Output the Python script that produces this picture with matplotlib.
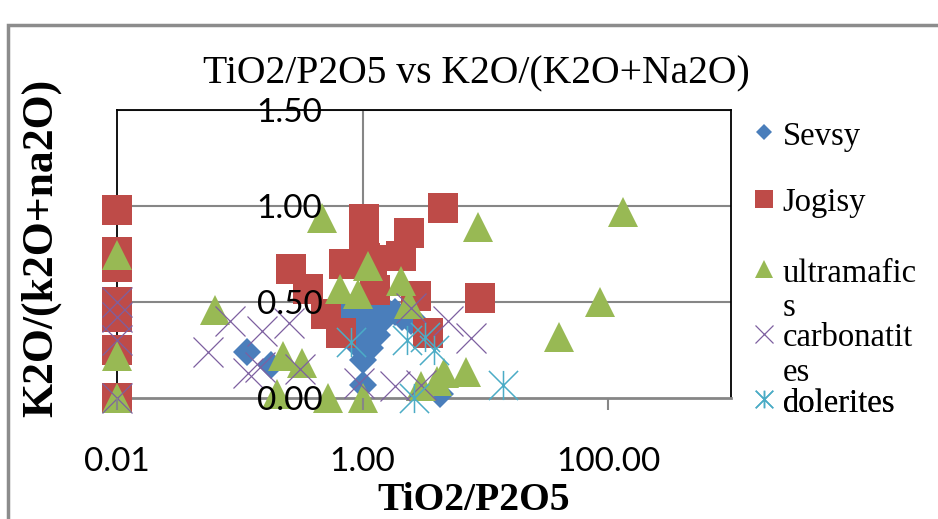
import matplotlib
matplotlib.use('Agg')
import matplotlib.pyplot as plt
from matplotlib.path import Path
from matplotlib.patches import Rectangle
from matplotlib.ticker import NullLocator

# values (x = TiO2/P2O5, y = K2O/(K2O+Na2O))
sevsy_x = [0.115, 0.18, 0.68, 0.8, 0.95, 1.1, 1.3, 1.55, 1.85, 0.8, 0.88, 0.95,
           1.0, 1.0, 1.05, 1.2, 1.45, 1.3, 1.15, 2.1, 2.5, 3.0, 1.0, 4.3]
sevsy_y = [0.24, 0.17, 0.45, 0.47, 0.47, 0.48, 0.47, 0.46, 0.45, 0.40, 0.33, 0.26,
           0.20, 0.38, 0.31, 0.40, 0.40, 0.33, 0.26, 0.42, 0.40, 0.37, 0.07, 0.02]

jogisy_x = [0.01, 0.01, 0.01, 0.01, 0.01, 0.01, 0.01,
            0.26, 0.36, 0.50, 0.67, 1.02, 1.02, 1.05, 0.7, 1.2, 1.25,
            2.4, 2.05, 4.5, 9.0, 2.7, 3.4]
jogisy_y = [0.98, 0.76, 0.68, 0.50, 0.42, 0.25, 0.0,
            0.67, 0.57, 0.44, 0.34, 0.93, 0.83, 0.73, 0.70, 0.72, 0.56,
            0.86, 0.74, 0.99, 0.52, 0.53, 0.34]

ultra_x = [0.01, 0.01, 0.01, 0.063, 0.226, 0.32, 0.20, 0.52, 1.0, 0.47, 0.66, 0.91,
           1.1, 2.04, 2.4, 8.7, 132, 85, 40, 4.6, 6.9, 3.0, 4.0]
ultra_y = [0.745, 0.22, 0.0, 0.46, 0.22, 0.18, 0.02, 0.0, 0.0, 0.94, 0.57, 0.54,
           0.69, 0.61, 0.49, 0.89, 0.97, 0.50, 0.32, 0.13, 0.135, 0.06, 0.09]

carb_x = [0.01, 0.01, 0.01, 0.01, 0.055, 0.083, 0.153, 0.25, 0.117, 0.146, 0.31,
          0.93, 1.85, 3.0, 2.5, 5.0, 7.6]
carb_y = [0.50, 0.42, 0.30, 0.0, 0.24, 0.40, 0.35, 0.39, 0.13, 0.16, 0.15,
          0.08, 0.06, 0.07, 0.47, 0.40, 0.31]

dol_x = [0.8, 2.3, 3.2, 3.8, 2.6, 13.8]
dol_y = [0.29, 0.30, 0.32, 0.25, 0.0, 0.07]

labels = ['Sevsy', 'Jogisy', 'ultramafic\ns', 'carbonatit\nes', 'dolerites']
xticks = [0.01, 1, 100]
xtick_labels = ['0.01', '1.00', '100.00']
yticks = [0.0, 0.5, 1.0, 1.5]
ytick_labels = ['0.00', '0.50', '1.00', '1.50']

# excel-style star: an x with a vertical bar through it
star = Path([(-1, -1), (1, 1), (-1, 1), (1, -1), (0, -1), (0, 1)],
            [Path.MOVETO, Path.LINETO] * 3)

grid_col = '#868686'

fig = plt.figure(figsize=(9.38, 5.19), dpi=100)
ax = fig.add_axes([117 / 938, 121 / 519, 614 / 938, 288 / 519])
ax.set_xscale('log')
ax.set_xlim(0.01, 1000)
ax.set_ylim(0, 1.5)

for y in yticks[1:]:
    ax.axhline(y, color=grid_col, lw=1.5, zorder=0.5)
# the value axis crosses at x = 1
ax.axvline(1, color=grid_col, lw=1.5, zorder=0.6)

kw = dict(ls='none', clip_on=False, zorder=3)
lines = []
lines += ax.plot(sevsy_x, sevsy_y, marker='D', ms=14.3, mfc='#4a7ebb', mec='#4a7ebb', mew=0, **kw)
lines += ax.plot(jogisy_x, jogisy_y, marker='s', ms=21, mfc='#be4b48', mec='#be4b48', mew=0, **kw)
lines += ax.plot(ultra_x, ultra_y, marker='^', ms=21, mfc='#98b954', mec='#98b954', mew=0, **kw)
lines += ax.plot(carb_x, carb_y, marker='x', ms=21, mec='#7d60a0', mew=0.9, **kw)
lines += ax.plot(dol_x, dol_y, marker=star, ms=21, mec='#4bacc6', mfc='none', mew=1.1, **kw)

for s in ['top', 'right', 'left']:
    ax.spines[s].set_color('black')
    ax.spines[s].set_linewidth(1.3)
ax.spines['bottom'].set_color(grid_col)
ax.spines['bottom'].set_linewidth(2)

ax.set_xticks(xticks)
ax.set_xticklabels(xtick_labels)
ax.xaxis.set_minor_locator(NullLocator())
ax.set_yticks(yticks)
ax.set_yticklabels(ytick_labels)
ax.tick_params(axis='x', direction='out', length=8.6, width=1.5, color=grid_col, pad=27)
ax.tick_params(axis='y', length=0, pad=-148)
for t in ax.get_xticklabels() + ax.get_yticklabels():
    t.set_fontfamily('Lato')
    t.set_fontsize(24)
ax.xaxis.set_zorder(5)
ax.yaxis.set_zorder(5)

ax.set_title('TiO2/P2O5 vs K2O/(K2O+Na2O)', fontfamily='Liberation Serif',
             fontsize=28.5, x=0.586, y=1.065)
ax.set_xlabel('TiO2/P2O5', fontfamily='Liberation Serif', fontweight='bold', fontsize=28.5)
ax.xaxis.set_label_coords(0.581, -0.29)
ax.set_ylabel('K2O/(k2O+na2O)', fontfamily='Liberation Serif', fontweight='bold', fontsize=31.5)
ax.yaxis.set_label_coords(-0.09, 0.52)

# excel spaces the legend entries evenly by their first line, so one small legend per entry
entry_tops = [121, 188, 258, 323, 388]  # pixel rows from the top of the figure
for line, lab, top in zip(lines, labels, entry_tops):
    leg = ax.legend([line], [lab], loc='upper left', bbox_to_anchor=(1.028, (398 - top) / 288),
                    frameon=False, prop={'family': 'Liberation Serif', 'size': 23.5},
                    markerscale=0.6, handlelength=0.95, handletextpad=0.1,
                    borderpad=0, borderaxespad=0)
    leg.get_texts()[0].set_linespacing(1.15)
    # marker next to the first line of a wrapped label, as excel does
    for col in leg._legend_handle_box.get_children():
        for row in col.get_children():
            row.align = 'top'
    ax.add_artist(leg)

# outer chart frame (only top and left edges are visible in the crop)
fig.patches.append(Rectangle((8 / 938, -0.2), 1.2, 1.2 - 25 / 519, transform=fig.transFigure,
                             fill=False, ec='#8c8c8c', lw=2.5))

fig.savefig('out.png', dpi=100)
